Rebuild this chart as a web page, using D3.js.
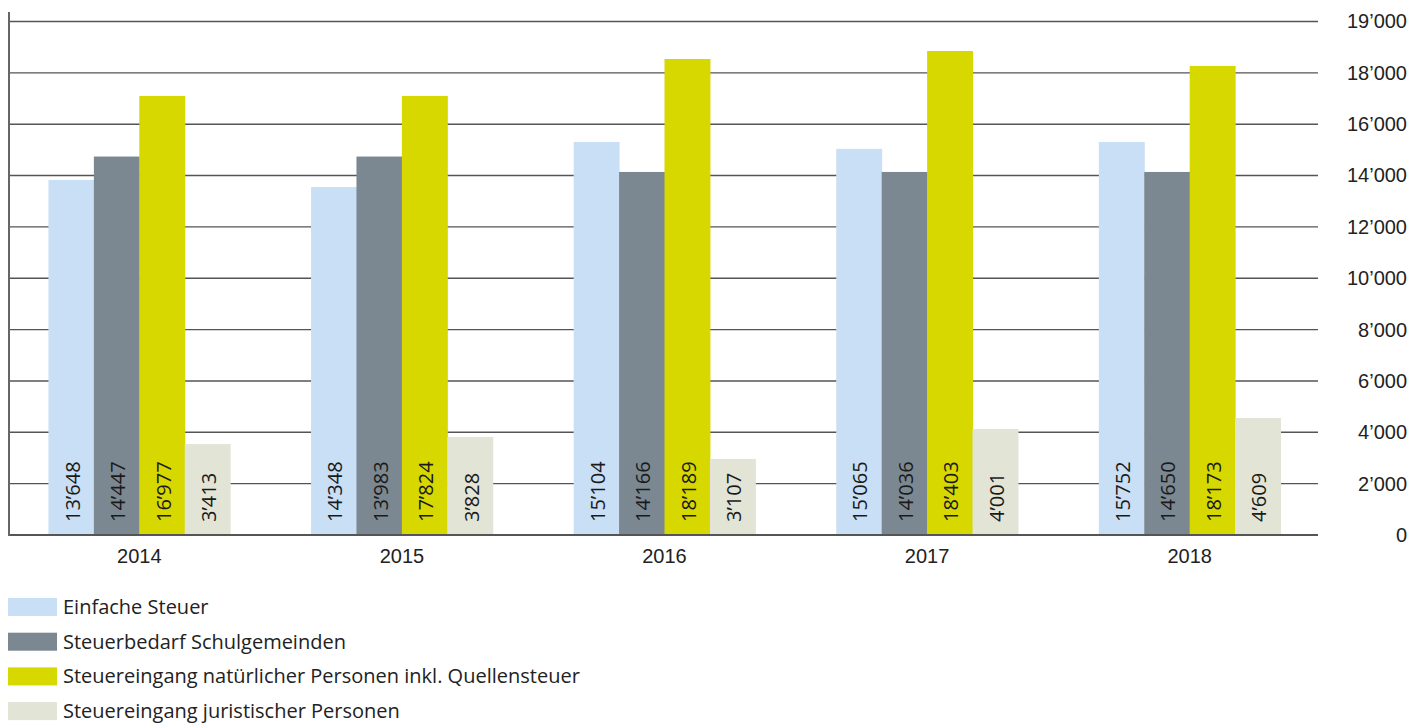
<!DOCTYPE html>
<html>
<head>
<meta charset="utf-8">
<script src="https://cdn.jsdelivr.net/npm/d3@7.9.0/dist/d3.min.js"></script>
<style>
  body { margin: 0; background: #fff; }
  svg { display: block; font-family: 'Open Sans', sans-serif; }
</style>
</head>
<body>
<svg id="chart" width="1424" height="726"></svg>
<script>
const years = ['2014', '2015', '2016', '2017', '2018'];
const seriesNames = [
    'Einfache Steuer',
    'Steuerbedarf Schulgemeinden',
    'Steuereingang natürlicher Personen inkl. Quellensteuer',
    'Steuereingang juristischer Personen'
];
const seriesColors = ['#c9dff5', '#7b8891', '#d6d800', '#e2e4d6'];

// bar heights as drawn in the picture
const einfache = [13830, 13550, 15310, 15040, 15310];
const schulgemeinden = [14740, 14740, 14140, 14140, 14140];
const natuerliche = [17100, 17100, 18540, 18850, 18270];
const juristische = [3540, 3820, 2960, 4130, 4560];

// value labels as printed on the bars
const einfacheLabels = ['13’648', '14’348', '15’104', '15’065', '15’752'];
const schulLabels = ['14’447', '13’983', '14’166', '14’036', '14’650'];
const natLabels = ['16’977', '17’824', '18’189', '18’403', '18’173'];
const jurLabels = ['3’413', '3’828', '3’107', '4’001', '4’609'];

// y axis ticks and their printed labels
const tickValues = [0, 2000, 4000, 6000, 8000, 10000, 12000, 14000, 16000, 18000, 20000];
const tickLabels = ['0', '2’000', '4’000', '6’000', '8’000', '10’000', '12’000', '14’000', '16’000', '18’000', '19’000'];

const values = [einfache, schulgemeinden, natuerliche, juristische];
const labels = [einfacheLabels, schulLabels, natLabels, jurLabels];

const svg = d3.select('#chart');

const plotLeft = 9, plotRight = 1318, plotBottom = 535, plotTop = 21.5;

let y = d3.scaleLinear().domain([0, 20000]).range([plotBottom, plotTop]);
let x0 = d3.scaleBand().domain(years).range([8, 1321])
    .paddingInner(0.308).paddingOuter(0.154);
let x1 = d3.scaleBand().domain(d3.range(seriesNames.length)).range([0, x0.bandwidth()]);

// gridlines
svg.append('g')
    .selectAll('line')
    .data(tickValues.slice(1))
    .join('line')
    .attr('x1', plotLeft).attr('x2', plotRight)
    .attr('y1', (d) => y(d)).attr('y2', (d) => y(d))
    .attr('stroke', '#555')
    .attr('stroke-width', 1.4);

// y axis on the right, labels only
let yAxis = d3.axisRight(y)
    .tickValues(tickValues)
    .tickSize(0)
    .tickFormat((d, i) => tickLabels[i]);
let yAxisG = svg.append('g')
    .attr('transform', 'translate(1407,0)')
    .call(yAxis);
yAxisG.select('.domain').remove();
yAxisG.selectAll('text')
    .attr('x', 0)
    .attr('text-anchor', 'end')
    .attr('fill', '#222')
    .style('font-size', '20px');

// bars
let groups = svg.append('g')
    .selectAll('g')
    .data(years)
    .join('g')
    .attr('transform', (d) => `translate(${x0(d)},0)`);

groups.each(function (year, yi) {
    let g = d3.select(this);
    seriesNames.forEach((name, si) => {
        let v = values[si][yi];
        g.append('rect')
            .attr('x', x1(si))
            .attr('y', y(v))
            .attr('width', x1.bandwidth() + 0.5)
            .attr('height', y(0) - y(v))
            .attr('fill', seriesColors[si]);
        let cx = x1(si) + x1.bandwidth() / 2 + 1.5;
        g.append('text')
            .attr('transform', `translate(${cx},522) rotate(-90)`)
            .attr('dy', '0.35em')
            .attr('text-anchor', 'start')
            .attr('fill', '#1a1a1a')
            .style('font-size', '20px')
            .text(labels[si][yi]);
    });
});

// baseline and left axis line
svg.append('line')
    .attr('x1', plotLeft).attr('x2', plotRight)
    .attr('y1', plotBottom).attr('y2', plotBottom)
    .attr('stroke', '#555').attr('stroke-width', 2);
svg.append('line')
    .attr('x1', plotLeft).attr('x2', plotLeft)
    .attr('y1', 12).attr('y2', plotBottom + 1)
    .attr('stroke', '#666').attr('stroke-width', 2);

// x axis labels
let xAxis = d3.axisBottom(x0).tickSize(0);
let xAxisG = svg.append('g')
    .attr('transform', `translate(0,${plotBottom})`)
    .call(xAxis);
xAxisG.select('.domain').remove();
xAxisG.selectAll('text')
    .attr('y', 28)
    .attr('dy', 0)
    .attr('fill', '#222')
    .style('font-size', '20px');

// legend
let legend = svg.append('g').attr('transform', 'translate(8,598)');
seriesNames.forEach((name, i) => {
    let row = legend.append('g').attr('transform', `translate(0,${i * 34.7})`);
    row.append('rect')
        .attr('width', 49).attr('height', 18)
        .attr('fill', seriesColors[i]);
    row.append('text')
        .attr('x', 55).attr('y', 9)
        .attr('dy', '0.35em')
        .attr('fill', '#222')
        .style('font-size', '20px')
        .text(name);
});
</script>
</body>
</html>
